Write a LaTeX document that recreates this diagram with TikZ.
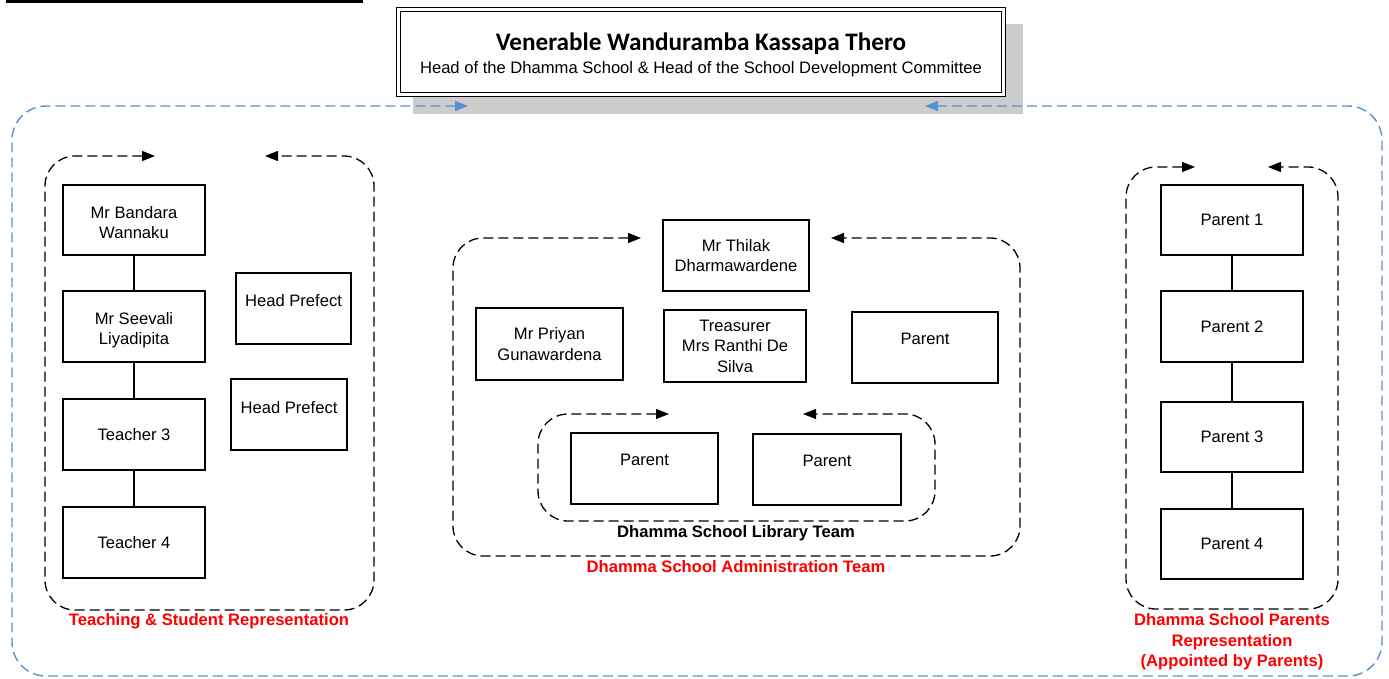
\documentclass[tikz,border=0pt]{standalone}
\usepackage{fontspec}
\setmainfont{Liberation Sans}
\newfontfamily\calib{Carlito}
\usetikzlibrary{arrows.meta}
\definecolor{bluedash}{RGB}{91,143,213}
\definecolor{shadowgray}{RGB}{204,204,204}
\definecolor{labred}{RGB}{255,0,0}
\newcommand\tdn[1]{\rule{0pt}{#1}}
\begin{document}
\begin{tikzpicture}[x=1pt,y=-1pt,
  txt/.style={font=\fontsize{16.6}{20.5}\selectfont},
  box/.style={draw, line width=1.1pt, fill=white, inner sep=0pt, align=center, txt},
  link/.style={line width=1.1pt},
  dloop/.style={line width=1.3pt, dash pattern=on 10pt off 5pt, rounded corners=30pt,
     {Triangle[length=13pt,width=10pt]}-{Triangle[length=13pt,width=10pt]}},
  bloop/.style={line width=1.4pt, bluedash, dash pattern=on 10pt off 5pt, rounded corners=34pt,
     {Triangle[length=13pt,width=10pt]}-{Triangle[length=13pt,width=10pt]}},
  redlab/.style={text=labred, font=\bfseries\fontsize{16.6}{20.5}\selectfont, align=center, inner sep=0pt},
  blklab/.style={font=\bfseries\fontsize{16.6}{20.5}\selectfont, align=center, inner sep=0pt}
]
\useasboundingbox (0,0) rectangle (1389,678);
% top rule
\fill (6,0) rectangle (363,2.6);
% shadow
\fill[shadowgray] (413,24) rectangle (1023,114);
% outer blue loop
\draw[bloop] (468,106) -- (12,106) -- (12,676) -- (1382,676) -- (1382,106) -- (925,106);
% title box
\node[draw, line width=1pt, double, double distance=3pt, fill=white, minimum width=605pt, minimum height=85pt, inner sep=0pt] (title) at (701,52) {};
\node[inner sep=0pt, font=\calib\bfseries\fontsize{25.2}{28}\selectfont] (tname) at (701,44) {Venerable Wanduramba Kassapa Thero};
\node[inner sep=0pt, txt] (tsub) at (701,69) {Head of the Dhamma School \& Head of the School Development Committee};

% left group
\draw[dloop] (155,156) -- (45,156) -- (45,610) -- (374,610) -- (374,156) -- (265,156);
\node[box, minimum width=142pt, minimum height=70pt] (b1) at (134,220) {\tdn{17pt}Mr Bandara\\Wannaku};
\node[box, minimum width=142pt, minimum height=71pt] (b2) at (134,326.5) {\tdn{19pt}Mr Seevali\\Liyadipita};
\node[box, minimum width=142pt, minimum height=71pt] (b3) at (134,434.5) {Teacher 3};
\node[box, minimum width=142pt, minimum height=71pt] (b4) at (134,542.5) {Teacher 4};
\draw[link] (b1) -- (b2);
\draw[link] (b2) -- (b3);
\draw[link] (b3) -- (b4);
\node[box, minimum width=115pt, minimum height=71pt] (hp1) at (293.5,308.5) {\tdn{22pt}Head Prefect\\\strut};
\node[box, minimum width=116pt, minimum height=71pt] (hp2) at (289,414.5) {\tdn{24pt}Head Prefect\\\strut};
\node[redlab] (lteach) at (209,621) {Teaching \& Student Representation};

% middle group
\draw[dloop] (641,238) -- (453,238) -- (453,556) -- (1020,556) -- (1020,238) -- (831,238);
\node[box, minimum width=146pt, minimum height=71pt] (thilak) at (736,255.5) {Mr Thilak\\Dharmawardene};
\node[box, minimum width=147pt, minimum height=72pt] (priyan) at (549.5,344) {Mr Priyan\\Gunawardena};
\node[box, minimum width=142pt, minimum height=72pt] (treas) at (735,346) {Treasurer\\Mrs Ranthi De\\Silva};
\node[box, minimum width=146pt, minimum height=71pt] (para) at (925,347.5) {\tdn{20pt}Parent\\\strut};
\draw[dloop] (669,414) -- (538,414) -- (538,521) -- (935,521) -- (935,414) -- (803,414);
\node[box, minimum width=147pt, minimum height=71pt] (lib1) at (644.5,468.5) {\tdn{20pt}Parent\\\strut};
\node[box, minimum width=148pt, minimum height=71pt] (lib2) at (827,469.5) {\tdn{20pt}Parent\\\strut};
\node[blklab] (llib) at (736,533) {Dhamma School Library Team};
\node[redlab] (ladmin) at (736,567) {Dhamma School Administration Team};

% right group
\draw[dloop] (1195,167) -- (1126,167) -- (1126,609) -- (1338,609) -- (1338,167) -- (1268,167);
\node[box, minimum width=142pt, minimum height=70pt] (p1) at (1232,220) {Parent 1};
\node[box, minimum width=142pt, minimum height=71pt] (p2) at (1232,326.5) {Parent 2};
\node[box, minimum width=142pt, minimum height=70pt] (p3) at (1232,437) {Parent 3};
\node[box, minimum width=142pt, minimum height=70pt] (p4) at (1232,544) {Parent 4};
\draw[link] (p1) -- (p2);
\draw[link] (p2) -- (p3);
\draw[link] (p3) -- (p4);
\node[redlab] (lpar) at (1232,642) {Dhamma School Parents\\Representation\\(Appointed by Parents)};
\end{tikzpicture}
\end{document}
